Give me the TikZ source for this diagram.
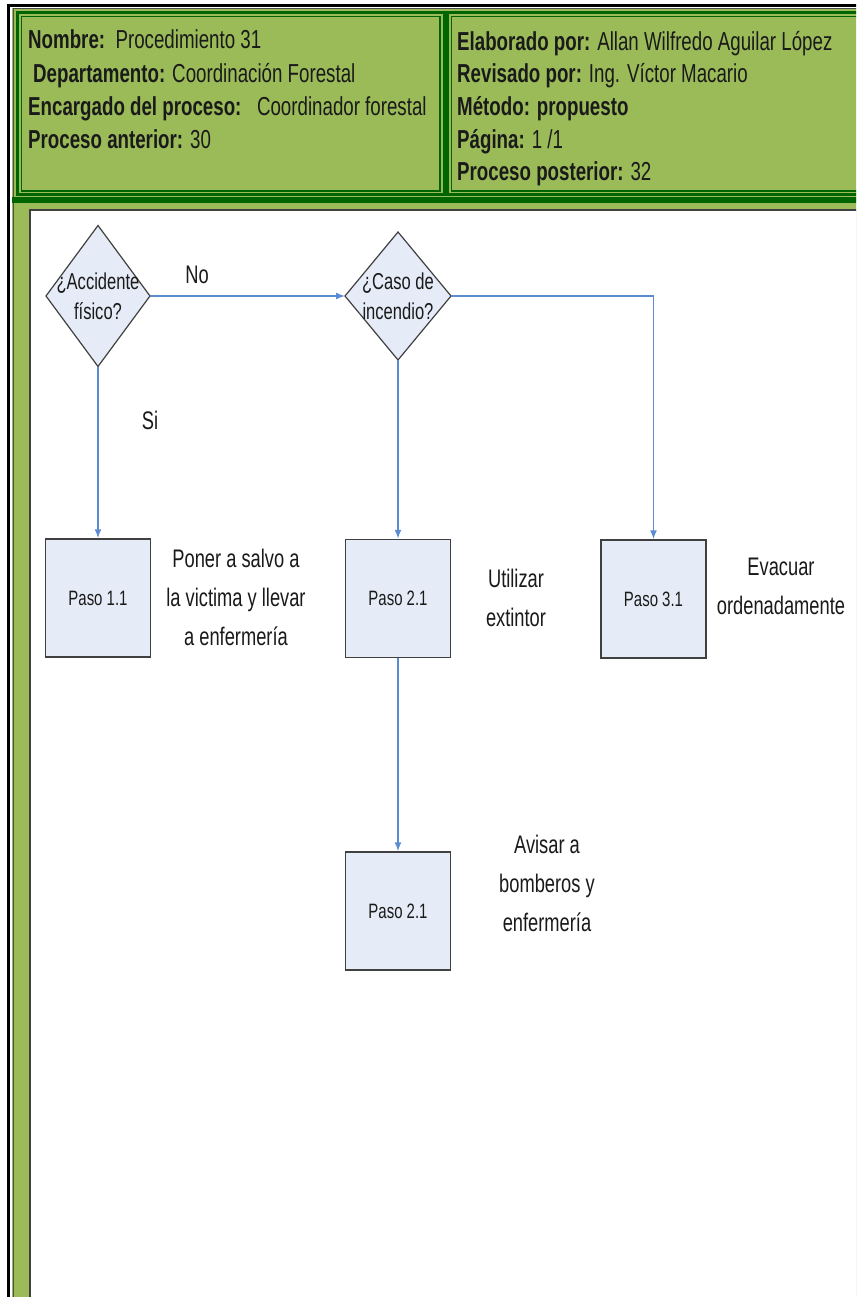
\documentclass[tikz,border=0pt]{standalone}
\usepackage{fontspec}
\setmainfont{Liberation Sans}[FakeStretch=0.72]
\usetikzlibrary{shapes.geometric,arrows.meta}
\definecolor{bggreen}{HTML}{9BBB59}
\definecolor{dkgreen}{HTML}{006400}
\definecolor{boxfill}{HTML}{E6ECF7}
\definecolor{arrblue}{HTML}{5B8BD0}
\definecolor{boxline}{HTML}{404040}
\definecolor{txt}{HTML}{1A1A1A}
\tikzset{
  hdr/.style={anchor=base west, inner sep=0, font=\fontsize{26}{30}\selectfont, text=txt},
  stepbox/.style={draw=boxline, fill=boxfill, line width=1.5, minimum width=105, minimum height=118, inner sep=0, font=\fontsize{20.8}{24}\selectfont, text=txt},
  decision/.style={diamond, draw=boxline, fill=boxfill, line width=1.2, inner sep=0, outer sep=0},
  dtext/.style={inner sep=0, font=\fontsize{23}{30}\selectfont, text=txt, align=center},
  arr/.style={draw=arrblue, line width=1.5, -{Latex[length=9,width=7]}},
  lbl/.style={align=center, font=\fontsize{25.4}{39}\selectfont, text=txt, inner sep=0}
}
\begin{document}
\begin{tikzpicture}[x=1pt,y=-1pt]
\useasboundingbox (0,0) rectangle (856,1297);
\clip (0,0) rectangle (856,1297);
\fill[white] (0,0) rectangle (856,1297);
% outer frame
\draw[black, line width=3] (8.5,1400) -- (8.5,5.5) -- (900,5.5);
\fill[bggreen] (12,8) rectangle (900,1400);
\draw[black!70, line width=1] (13,1400) -- (13,9) -- (900,9);
% header cells
\draw[dkgreen, line width=3] (17.5,12.5) rectangle (444,195);
\draw[dkgreen, line width=1.2] (21.5,16.5) rectangle (440,191);
\draw[dkgreen, line width=3] (447.5,12.5) rectangle (900,195);
\draw[dkgreen, line width=1.2] (451.5,16.5) rectangle (900,191);
\fill[dkgreen] (12,197) rectangle (900,203);
% content area
\filldraw[fill=white, draw=black!75, line width=2] (30,210) rectangle (900,1400);
% header text
\node[hdr] (h1) at (28,49) {\textbf{Nombre:}\ \ Procedimiento 31};
\node[hdr] (h2) at (33,83) {\textbf{Departamento:} Coordinación\ Forestal};
\node[hdr] (h3) at (28,116) {\textbf{Encargado del proceso:}\ \ \ Coordinador forestal};
\node[hdr] (h4) at (28,149) {\textbf{Proceso anterior:} 30};
\node[hdr] (r1) at (457,51) {\textbf{Elaborado por:} Allan\ Wilfredo Aguilar\ López};
\node[hdr] (r2) at (457,83) {\textbf{Revisado por:} Ing. Víctor Macario};
\node[hdr] (r3) at (457,116) {\textbf{Método: propuesto}};
\node[hdr] (r4) at (457,149) {\textbf{Página:} 1 /1};
\node[hdr] (r5) at (457,181) {\textbf{Proceso posterior:} 32};
% flowchart
\node[decision, minimum width=104, minimum height=141] (d1) at (98,296) {};
\node[dtext] (d1t) at (d1.center) {¿Accidente\\físico?};
\node[decision, minimum width=106, minimum height=128] (d2) at (398,296) {};
\node[dtext] (d2t) at (d2.center) {¿Caso de\\incendio?};
\node[stepbox] (b1) at (98,598) {Paso 1.1};
\node[stepbox] (b2) at (398,598.5) {Paso 2.1};
\node[stepbox] (b3) at (653.5,599) {Paso 3.1};
\node[stepbox] (b4) at (398,911) {Paso 2.1};
\draw[arr] (d1.east) -- (d2.west);
\draw[arr] (d2.east) -| (b3.north);
\draw[arr] (d1.south) -- (b1.north);
\draw[arr] (d2.south) -- (b2.north);
\draw[arr] (b2.south) -- (b4.north);
\node[lbl] (no) at (197,275) {No};
\node[lbl] (si) at (150,420) {Si};
\node[lbl] (t1) at (236,597) {Poner a salvo a\\la victima y llevar\\a enfermería};
\node[lbl] (t2) at (516,598) {Utilizar\\extintor};
\node[lbl] (t3) at (781,586) {Evacuar\\ordenadamente};
\node[lbl] (t4) at (547,883) {Avisar a\\bomberos y\\enfermería};
\end{tikzpicture}
\end{document}
